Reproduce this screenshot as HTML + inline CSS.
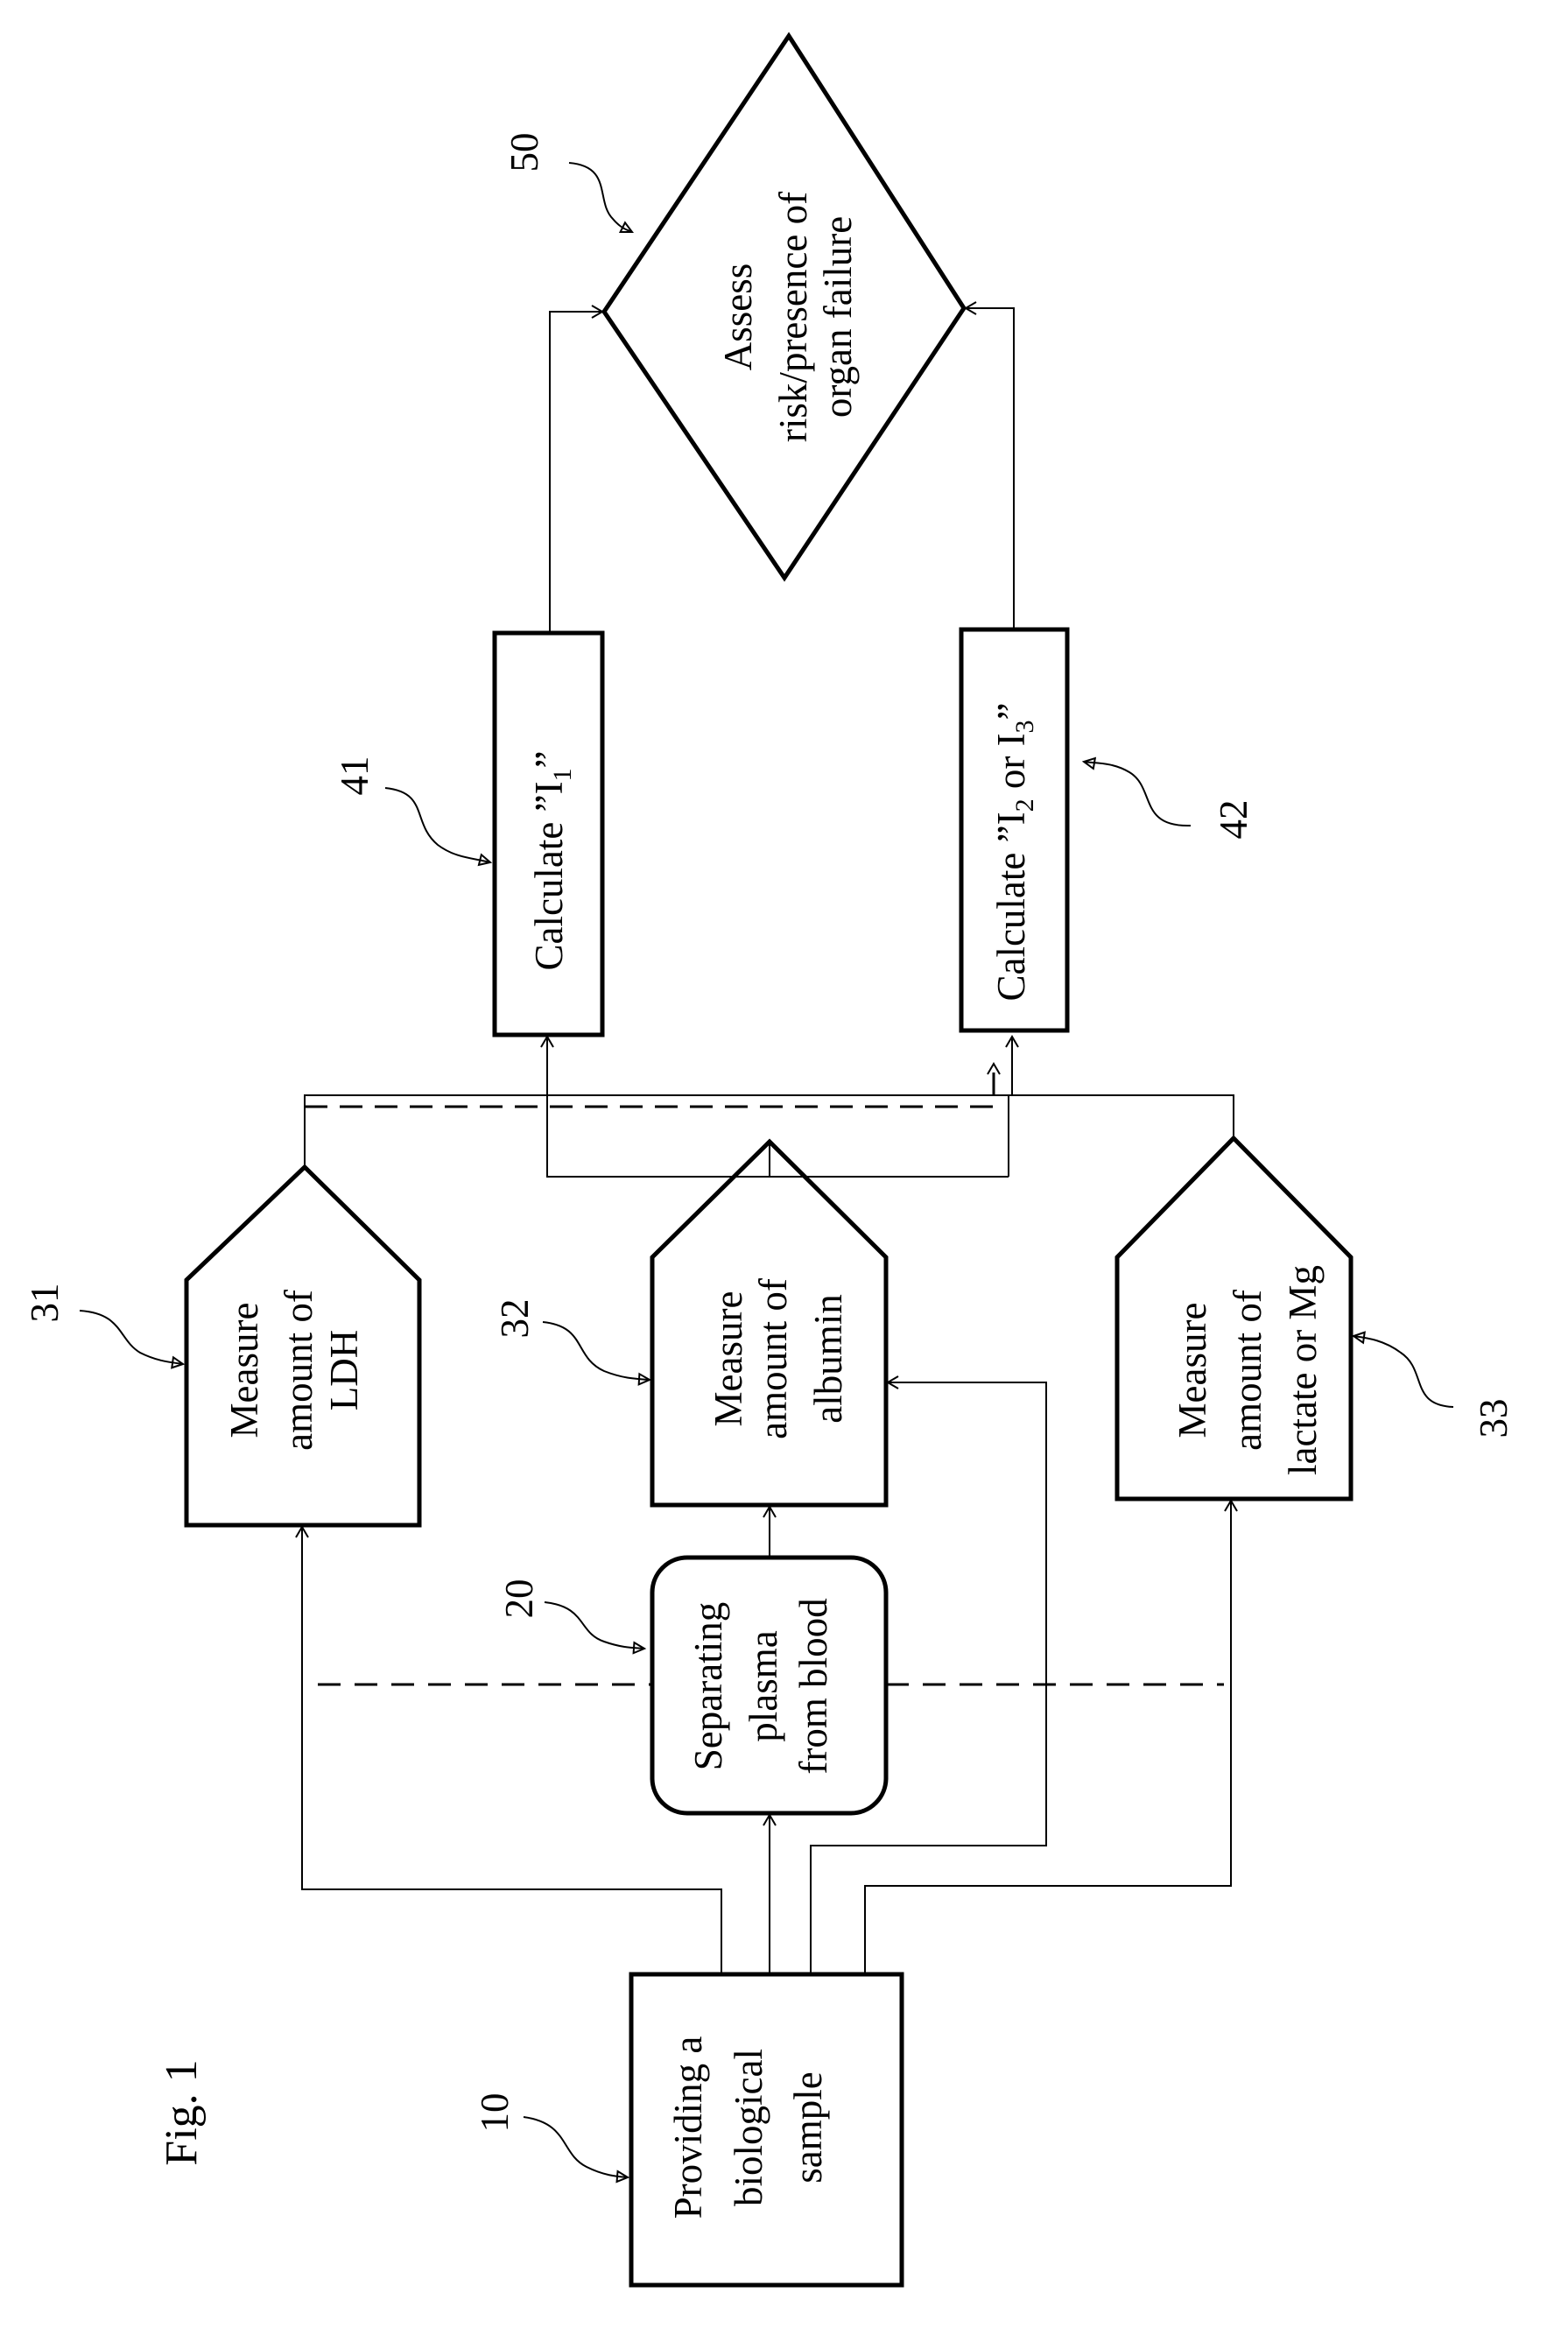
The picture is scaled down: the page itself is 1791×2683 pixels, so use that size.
<!DOCTYPE html>
<html><head><meta charset="utf-8"><style>
html,body{margin:0;padding:0;background:#fff;}
svg{display:block;}
text{font-family:"Liberation Serif",serif;fill:#000;}
</style></head><body>
<svg width="1791" height="2683" viewBox="0 0 1791 2683" xmlns="http://www.w3.org/2000/svg">
<defs>
<marker id="a" markerUnits="userSpaceOnUse" markerWidth="20" markerHeight="20" refX="14" refY="8" orient="auto">
<path d="M2,1 L14,8 L2,15" fill="none" stroke="#000" stroke-width="2"/>
</marker>
<marker id="s" markerUnits="userSpaceOnUse" markerWidth="20" markerHeight="20" refX="14" refY="8" orient="auto">
<path d="M2,2 L14,8 L2,14 Z" fill="none" stroke="#000" stroke-width="2"/>
</marker>
</defs>
<g fill="none" stroke="#000" stroke-width="5">
<!-- diamond -->
<path d="M901,41 L1101,352 L896,660 L690,356 Z"/>
<!-- box 41, 42 -->
<rect x="565" y="723" width="123" height="459"/>
<rect x="1098" y="719" width="121" height="458"/>
<!-- pentagons -->
<path d="M348,1333 L479,1462 L479,1742 L213,1742 L213,1462 Z"/>
<path d="M879,1304 L1012,1436 L1012,1719 L745,1719 L745,1436 Z"/>
<path d="M1409,1300 L1543,1436 L1543,1712 L1276,1712 L1276,1436 Z"/>
<!-- separating -->
<rect x="745" y="1779" width="267" height="292" rx="40" ry="40"/>
<!-- providing -->
<rect x="721" y="2255" width="309" height="355"/>
</g>
<g fill="none" stroke="#000" stroke-width="2">
<!-- to diamond -->
<path d="M628,723 L628,356 L688,356" marker-end="url(#a)"/>
<path d="M1158,719 L1158,352 L1103,352" marker-end="url(#a)"/>
<!-- top connectors -->
<path d="M348,1333 L348,1251 L1409,1251 L1409,1300"/>
<path d="M1156,1251 L1156,1184" marker-end="url(#a)"/>
<path d="M879,1304 L879,1344"/>
<path d="M1152,1344 L625,1344 L625,1184" marker-end="url(#a)"/>
<path d="M1152,1344 L1152,1251"/>
<!-- dashed L -->
<path d="M348,1264 L1135,1264 L1135,1215" stroke-width="3" stroke-dasharray="26,14" marker-end="url(#a)"/>
<!-- from providing -->
<path d="M824,2255 L824,2158 L345,2158 L345,1744" marker-end="url(#a)"/>
<path d="M879,2255 L879,2073" marker-end="url(#a)"/>
<path d="M926,2255 L926,2108 L1195,2108 L1195,1579 L1014,1579" marker-end="url(#a)"/>
<path d="M988,2255 L988,2154 L1406,2154 L1406,1714" marker-end="url(#a)"/>
<path d="M879,1779 L879,1721" marker-end="url(#a)"/>
<!-- dashed at sep -->
<path d="M363,1924 L745,1924 M1012,1924 L1398,1924" stroke-width="3" stroke-dasharray="26,16"/>
<!-- curly label arrows -->
<path d="M650,186 C700,190 680,230 700,250 C710,262 718,263 722,265" marker-end="url(#s)"/>
<path d="M440,900 C490,905 470,940 500,965 C520,980 540,980 560,985" marker-end="url(#s)"/>
<path d="M1360,943 C1300,945 1320,900 1290,882 C1270,870 1250,872 1238,870" marker-end="url(#s)"/>
<path d="M91,1497 C140,1500 135,1530 160,1545 C180,1555 195,1556 209,1558" marker-end="url(#s)"/>
<path d="M620,1510 C670,1515 655,1550 690,1566 C710,1574 725,1575 742,1576" marker-end="url(#s)"/>
<path d="M622,1830 C670,1835 660,1865 690,1875 C710,1882 722,1882 736,1883" marker-end="url(#s)"/>
<path d="M1660,1607 C1610,1605 1630,1565 1600,1545 C1580,1530 1560,1528 1546,1526" marker-end="url(#s)"/>
<path d="M598,2418 C650,2425 640,2460 670,2475 C690,2485 705,2486 717,2487" marker-end="url(#s)"/>
</g>
<g font-size="45" text-anchor="middle">
<!-- diamond text -->
<text transform="translate(858,362) rotate(-90)">Assess</text>
<text transform="translate(921,362) rotate(-90)">risk/presence of</text>
<text transform="translate(972,362) rotate(-90)">organ failure</text>
<!-- 41 / 42 -->
<text transform="translate(642,983) rotate(-90)">Calculate ”I<tspan font-size="30" dy="10">1</tspan><tspan dy="-10">”</tspan></text>
<text transform="translate(1170,973) rotate(-90)">Calculate ”I<tspan font-size="30" dy="10">2</tspan><tspan dy="-10"> or I</tspan><tspan font-size="30" dy="10">3</tspan><tspan dy="-10">”</tspan></text>
<!-- LDH -->
<text transform="translate(294,1565) rotate(-90)">Measure</text>
<text transform="translate(356,1565) rotate(-90)">amount of</text>
<text transform="translate(408,1565) rotate(-90)">LDH</text>
<!-- albumin -->
<text transform="translate(847,1552) rotate(-90)">Measure</text>
<text transform="translate(898,1552) rotate(-90)">amount of</text>
<text transform="translate(961,1552) rotate(-90)">albumin</text>
<!-- lactate -->
<text transform="translate(1377,1565) rotate(-90)">Measure</text>
<text transform="translate(1440,1565) rotate(-90)">amount of</text>
<text transform="translate(1503,1565) rotate(-90)">lactate or Mg</text>
<!-- separating -->
<text transform="translate(824,1926) rotate(-90)">Separating</text>
<text transform="translate(887,1926) rotate(-90)">plasma</text>
<text transform="translate(944,1926) rotate(-90)">from blood</text>
<!-- providing -->
<text transform="translate(801,2430) rotate(-90)">Providing a</text>
<text transform="translate(870,2430) rotate(-90)">biological</text>
<text transform="translate(938,2430) rotate(-90)">sample</text>
<!-- reference numbers -->
<text transform="translate(614,174) rotate(-90)">50</text>
<text transform="translate(420,886) rotate(-90)">41</text>
<text transform="translate(1424,936) rotate(-90)">42</text>
<text transform="translate(66,1488) rotate(-90)">31</text>
<text transform="translate(603,1506) rotate(-90)">32</text>
<text transform="translate(608,1826) rotate(-90)">20</text>
<text transform="translate(1721,1620) rotate(-90)">33</text>
<text transform="translate(580,2413) rotate(-90)">10</text>
<text transform="translate(224,2413) rotate(-90)" font-size="52">Fig. 1</text>
</g>
</svg>
</body></html>
